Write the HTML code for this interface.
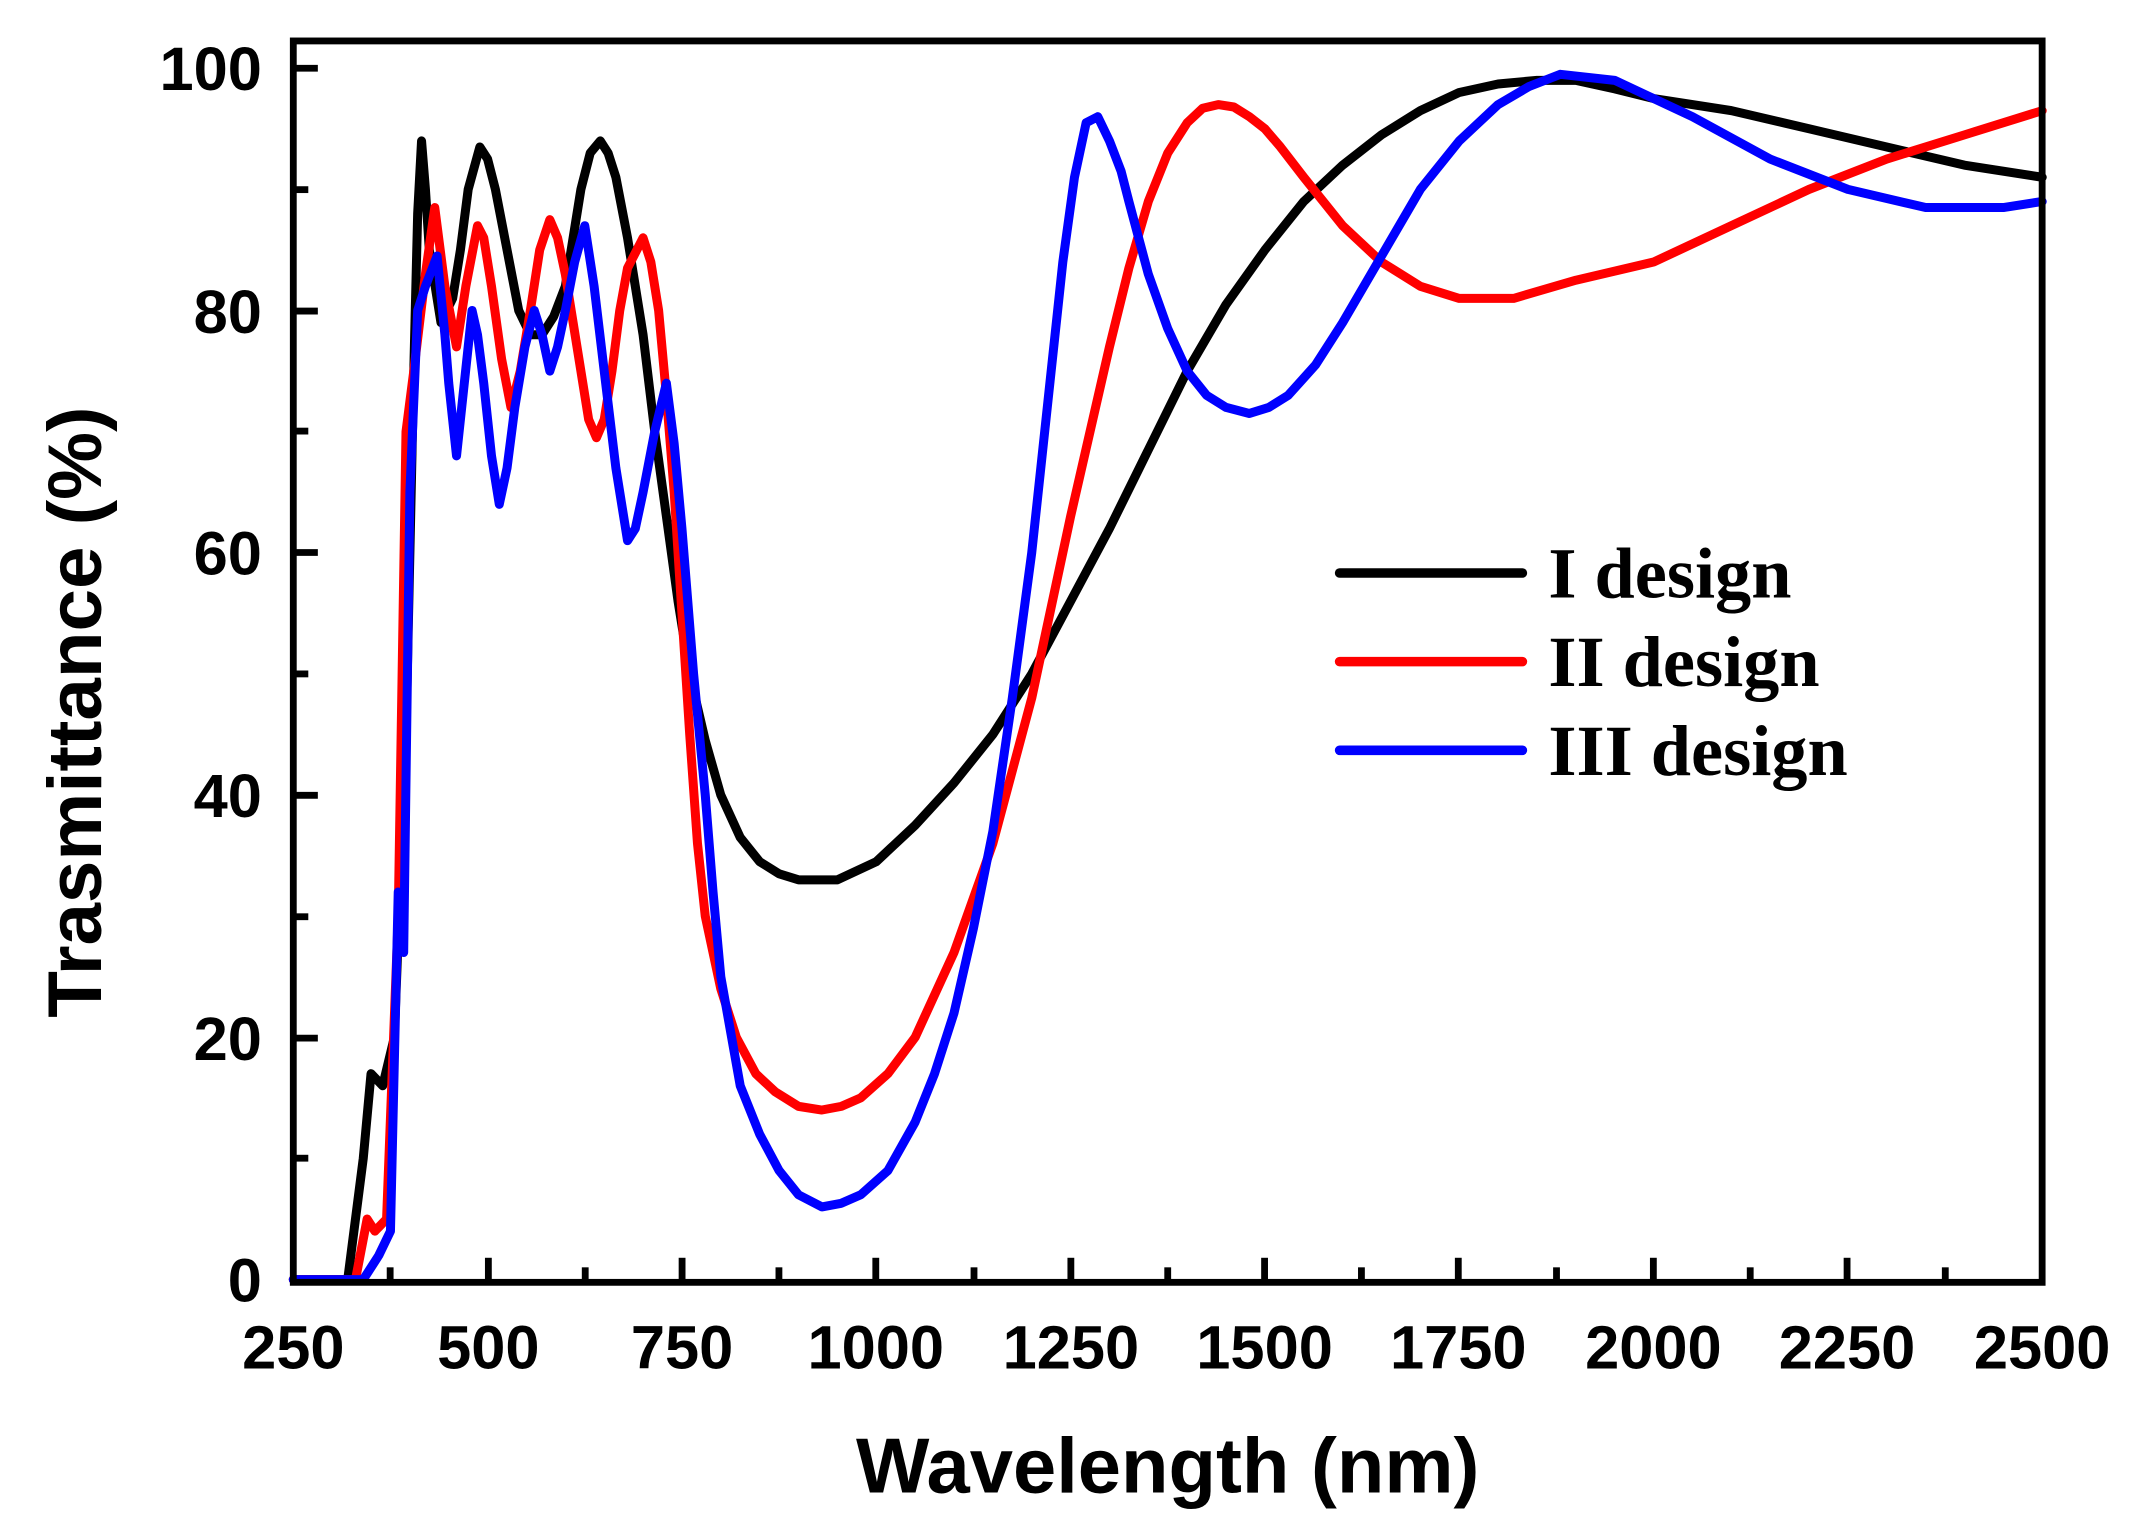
<!DOCTYPE html>
<html><head><meta charset="utf-8"><style>
html,body{margin:0;padding:0;background:#fff;}
svg{display:block;}
</style></head><body>
<svg width="2139" height="1532" viewBox="0 0 1568 1123" xmlns="http://www.w3.org/2000/svg">
<g fill="none" stroke-linejoin="round" stroke-linecap="round" transform="translate(215,938) scale(0.5698,-8.88) translate(-250,0)">
<polyline vector-effect="non-scaling-stroke" stroke="#000" stroke-width="9" points="250,0 320,0 340,10 350,17 365,16 380,20 395,45 405,75 410,88 415,94 420,90 425,85 440,79 455,81 465,85 475,90 490,93.5 500,92.5 510,90 525,85 540,80 555,78 570,78 585,79.5 600,82 620,90 632,93 645,94 655,93 665,91 680,86 700,78 715,70 730,63 745,56 760,50 780,44.5 800,40 825,36.5 850,34.5 875,33.5 900,33 950,33 1000,34.5 1050,37.5 1100,41 1150,45 1200,50 1250,56 1300,62 1350,68.5 1400,75 1450,80.5 1500,85 1550,89 1600,92 1650,94.5 1700,96.5 1750,98 1800,98.7 1850,99 1900,99 1950,98.3 2000,97.5 2100,96.5 2200,95 2300,93.5 2400,92 2500,91"/>
<polyline vector-effect="non-scaling-stroke" stroke="#f00" stroke-width="9" points="250,0 330,0 345,5 355,4 370,5 385,30 395,70 405,75 420,83 432,88.5 445,82 460,77 472,82 487,87 495,86 505,82 518,76 530,72 542,75 555,80 567,85 580,87.5 590,86 600,83 610,79 620,75 630,71 640,69.5 650,71 660,75 670,80 680,83.5 700,86 710,84 720,80 730,73 740,65 750,55 760,45 770,36 780,30 800,24 820,20 845,17 870,15.5 900,14.3 930,14 955,14.3 980,15 1015,17 1050,20 1100,27 1150,36 1200,48 1250,63 1300,77 1325,83.5 1350,89 1375,93 1400,95.5 1420,96.7 1440,97 1460,96.8 1480,96 1500,95 1520,93.5 1550,91 1575,89 1600,87 1650,84 1700,82 1750,81 1820,81 1900,82.5 2000,84 2100,87 2200,90 2300,92.5 2400,94.5 2500,96.5"/>
<polyline vector-effect="non-scaling-stroke" stroke="#00f" stroke-width="9" points="250,0 340,0 360,2 375,4 385,32 392,27 400,65 410,80 420,82 435,84.5 445,78 450,74 460,68 470,74 480,80 487,78 495,74 505,68 515,64 525,67 535,72 548,77 560,80 570,78 580,75 590,77 600,80 612,84 625,87 637,82 650,75 665,67 680,61 690,62 700,65 715,70 730,74 740,69 750,62 765,50 780,40 790,32 800,25 825,16 850,12 875,9 900,7 930,6 955,6.3 980,7 1015,9 1050,13 1075,17 1100,22 1125,29 1150,37 1175,48 1200,60 1220,72 1240,84 1255,91 1270,95.5 1285,96 1300,94 1315,91.5 1325,89 1350,83 1375,78.5 1400,75 1425,73 1450,72 1480,71.5 1505,72 1530,73 1565,75.5 1600,79 1650,84.5 1700,90 1750,94 1800,97 1840,98.5 1880,99.5 1950,99 2050,96 2150,92.5 2250,90 2350,88.5 2450,88.5 2500,89"/>
</g>
<!-- axes -->
<rect x="215" y="30" width="1282" height="910" fill="none" stroke="#000" stroke-width="5"/>
<g stroke="#000" stroke-width="5">
<line x1="215" y1="50" x2="233" y2="50"/><line x1="215" y1="139" x2="226" y2="139"/>
<line x1="215" y1="228" x2="233" y2="228"/><line x1="215" y1="316" x2="226" y2="316"/>
<line x1="215" y1="405" x2="233" y2="405"/><line x1="215" y1="494" x2="226" y2="494"/>
<line x1="215" y1="583" x2="233" y2="583"/><line x1="215" y1="672" x2="226" y2="672"/>
<line x1="215" y1="761" x2="233" y2="761"/><line x1="215" y1="849" x2="226" y2="849"/>
<line x1="286" y1="940" x2="286" y2="929"/><line x1="358" y1="940" x2="358" y2="922"/>
<line x1="429" y1="940" x2="429" y2="929"/><line x1="500" y1="940" x2="500" y2="922"/>
<line x1="571" y1="940" x2="571" y2="929"/><line x1="642" y1="940" x2="642" y2="922"/>
<line x1="714" y1="940" x2="714" y2="929"/><line x1="785" y1="940" x2="785" y2="922"/>
<line x1="856" y1="940" x2="856" y2="929"/><line x1="927" y1="940" x2="927" y2="922"/>
<line x1="998" y1="940" x2="998" y2="929"/><line x1="1069" y1="940" x2="1069" y2="922"/>
<line x1="1141" y1="940" x2="1141" y2="929"/><line x1="1212" y1="940" x2="1212" y2="922"/>
<line x1="1283" y1="940" x2="1283" y2="929"/><line x1="1354" y1="940" x2="1354" y2="922"/>
<line x1="1426" y1="940" x2="1426" y2="929"/>
</g>
<g font-family="Liberation Sans, Arial, sans-serif" font-weight="bold" font-size="45" fill="#000">
<g text-anchor="end">
<text x="192" y="66">100</text><text x="192" y="244">80</text><text x="192" y="421">60</text>
<text x="192" y="599">40</text><text x="192" y="777">20</text><text x="192" y="954">0</text>
</g>
<g text-anchor="middle">
<text x="215" y="1003">250</text><text x="358" y="1003">500</text><text x="500" y="1003">750</text>
<text x="642" y="1003">1000</text><text x="785" y="1003">1250</text><text x="927" y="1003">1500</text>
<text x="1069" y="1003">1750</text><text x="1212" y="1003">2000</text><text x="1354" y="1003">2250</text>
<text x="1497" y="1003">2500</text>
</g>
<text x="856" y="1094" text-anchor="middle" font-size="57">Wavelength (nm)</text>
<text transform="translate(74,522) rotate(-90)" text-anchor="middle" font-size="56">Trasmittance (%)</text>
</g>
<g stroke-width="7" stroke-linecap="round">
<line x1="982" y1="420" x2="1116" y2="420" stroke="#000"/>
<line x1="982" y1="485" x2="1116" y2="485" stroke="#f00"/>
<line x1="982" y1="550" x2="1116" y2="550" stroke="#00f"/>
</g>
<g font-family="Liberation Serif, Times New Roman, serif" font-weight="bold" font-size="53" fill="#000">
<text x="1135" y="438">I design</text>
<text x="1135" y="503">II design</text>
<text x="1135" y="568">III design</text>
</g>
</svg>
</body></html>
